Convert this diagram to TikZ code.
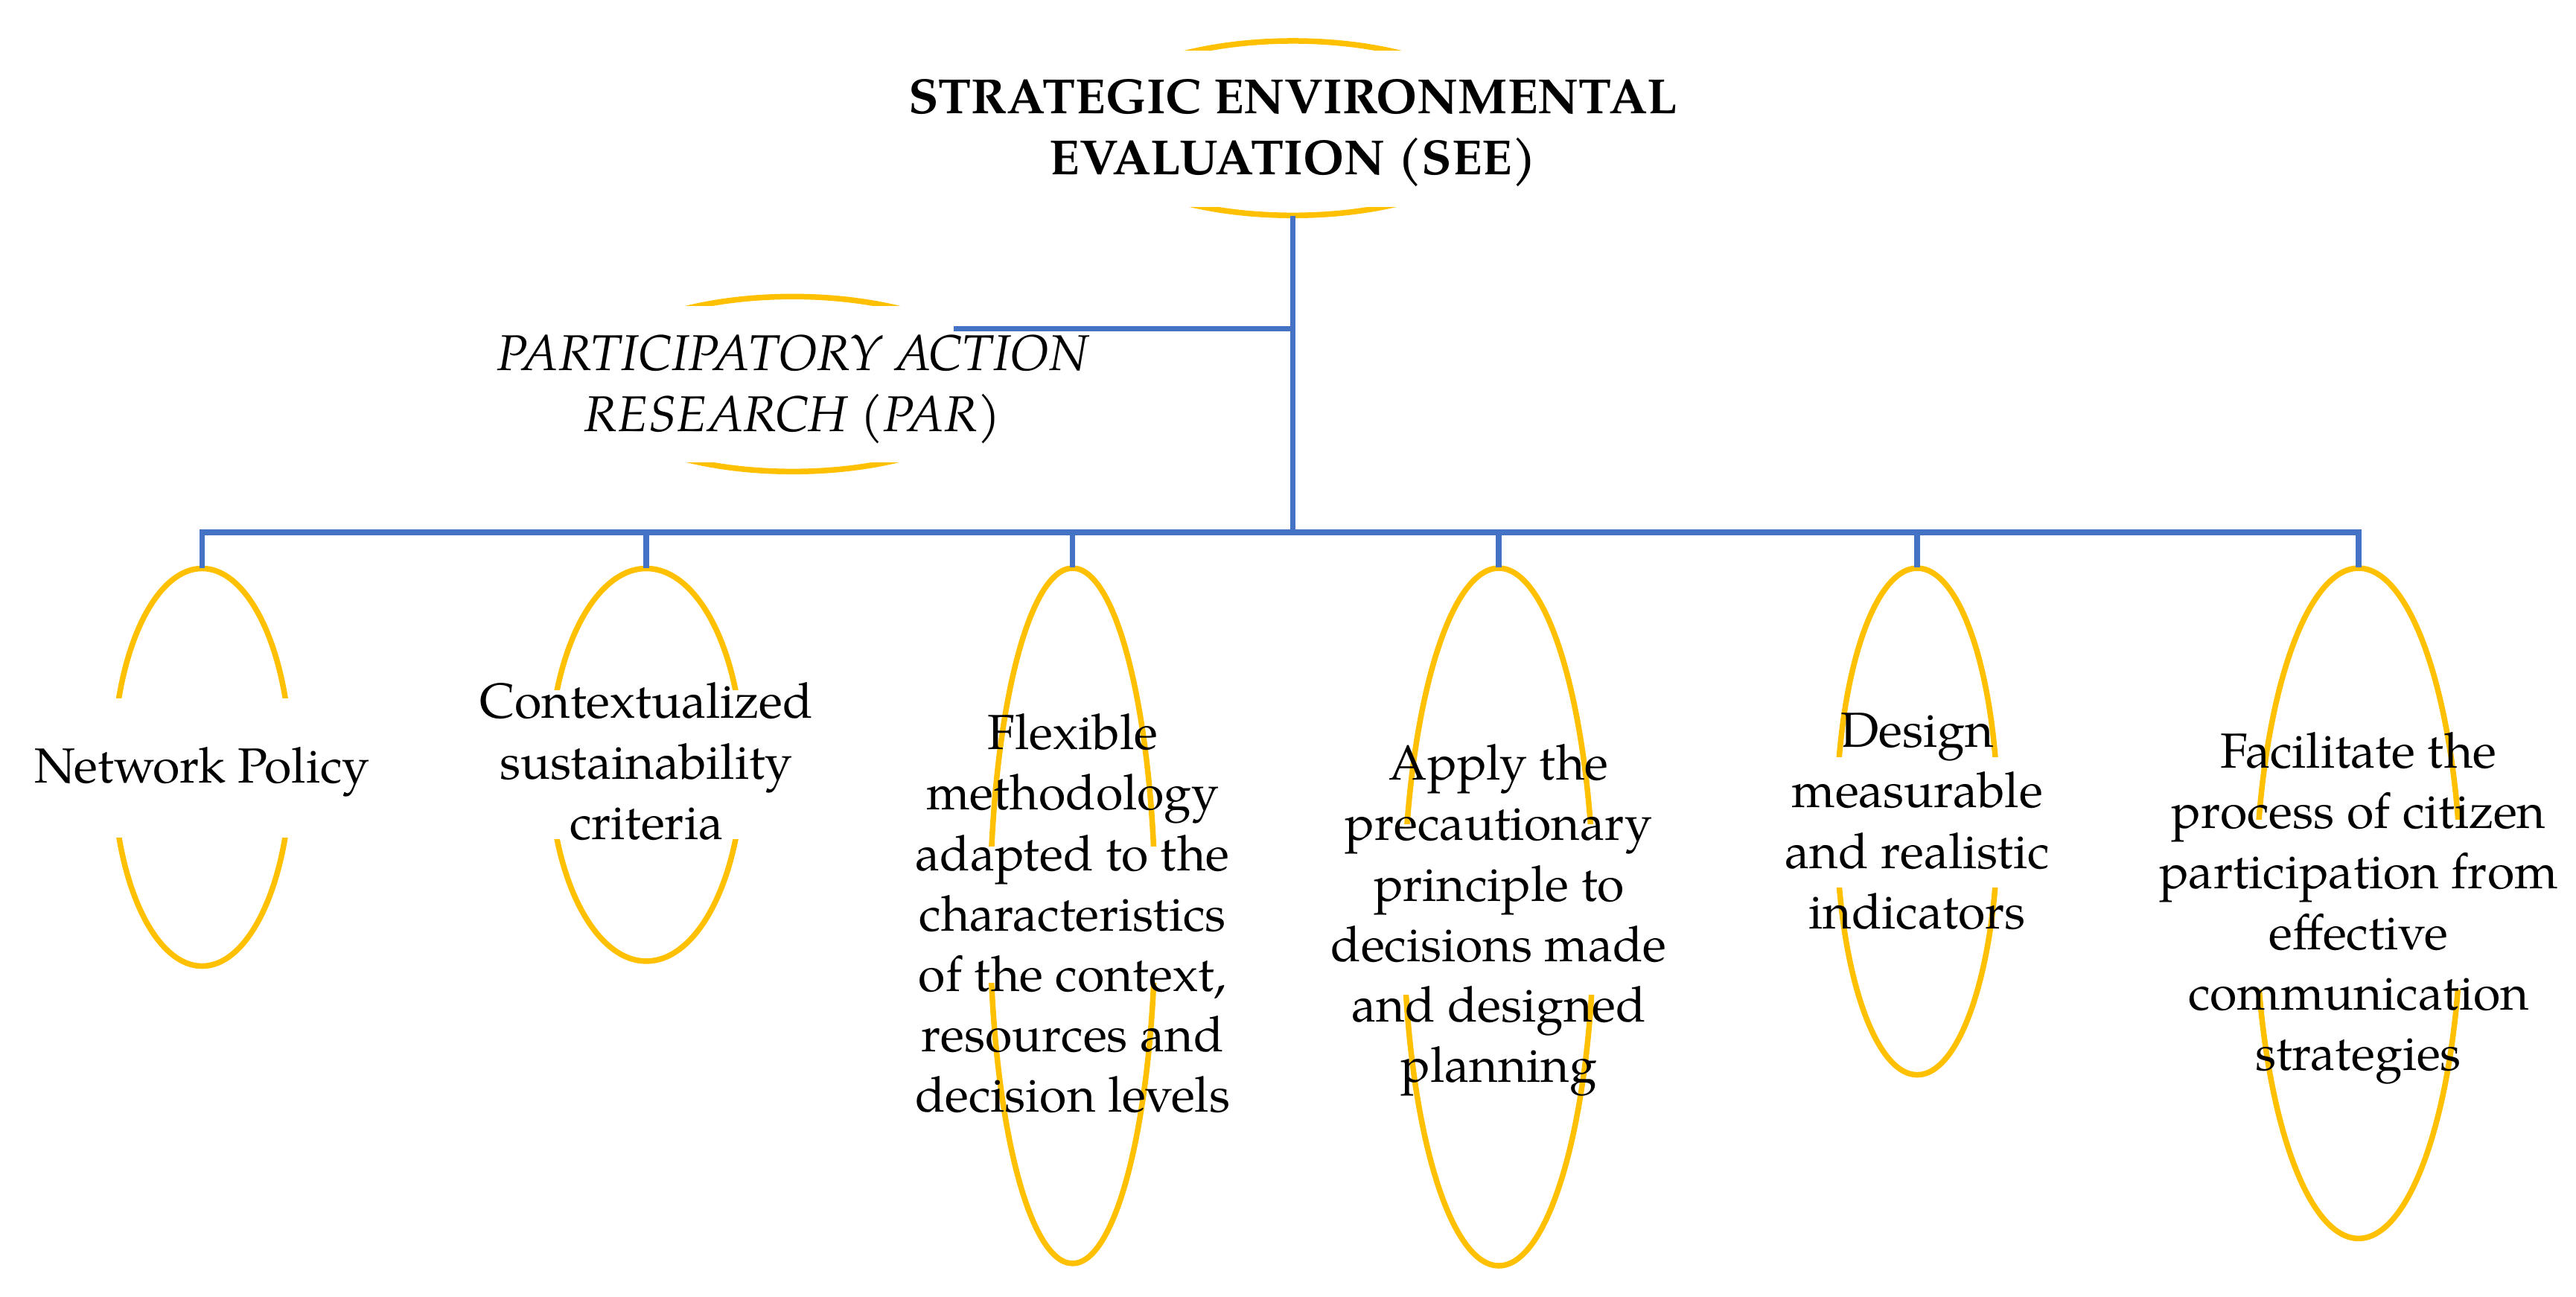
\documentclass[tikz,border=0pt]{standalone}
\usepackage{fontspec}
\setmainfont{texgyrepagella}[Extension=.otf,UprightFont=*-regular,BoldFont=*-bold,ItalicFont=*-italic,BoldItalicFont=*-bolditalic]
\usetikzlibrary{shapes.geometric}
\definecolor{ylw}{HTML}{FFC000}
\definecolor{blu}{HTML}{4472C4}
\tikzset{
  ring/.style={draw=ylw, line width=1.7pt},
  conn/.style={draw=blu, line width=1.7pt},
  oval/.style={ellipse, draw=none, inner sep=0pt},
  lbl/.style={align=center, inner sep=0pt, font=\fontsize{15}{18.4}\selectfont},
}
% #1 cx, #2 cy, #3 a, #4 b (all in picture units), #5 top of hidden band, #6 bottom of hidden band
\newcommand{\gapell}[6]{%
  \begin{scope}
    \clip (#1-#3-20,#2-#4-20) rectangle (#1+#3+20,#5);
    \draw[ring] (#1,#2) ellipse [x radius={#3*0.5pt}, y radius={#4*0.5pt}];
  \end{scope}
  \begin{scope}
    \clip (#1-#3-20,#6) rectangle (#1+#3+20,#2+#4+20);
    \draw[ring] (#1,#2) ellipse [x radius={#3*0.5pt}, y radius={#4*0.5pt}];
  \end{scope}}
\begin{document}
\begin{tikzpicture}[x=0.5pt, y=-0.5pt]
\useasboundingbox (0,0) rectangle (1568,789);

% shape nodes (outline drawn below with gaps)
\node[oval, minimum width=128pt, minimum height=53.1pt] (see) at (787,78) {};
\node[oval, minimum width=128pt, minimum height=53.25pt] (par) at (482.5,233.75) {};
\node[oval, minimum width=54pt, minimum height=121pt] (e1) at (123,467) {};
\node[oval, minimum width=58.7pt, minimum height=119.5pt] (e2) at (393.4,465.5) {};
\node[oval, minimum width=50.3pt, minimum height=211.6pt] (e3) at (652.9,557.4) {};
\node[oval, minimum width=57.9pt, minimum height=212.3pt] (e4) at (912.3,558.1) {};
\node[oval, minimum width=49.1pt, minimum height=154.2pt] (e5) at (1167,500) {};
\node[oval, minimum width=62.6pt, minimum height=204pt] (e6) at (1435.6,549.8) {};

% gapped yellow outlines
\gapell{787}{78}{128}{53.1}{30.5}{126}
\gapell{482.5}{233.75}{128}{53.25}{186}{281.7}
\gapell{123}{467}{54}{121}{425}{510}
\gapell{393.4}{465.5}{58.7}{119.5}{420}{511}
\gapell{652.9}{557.4}{50.3}{211.6}{515.1}{598.2}
\gapell{912.3}{558.1}{57.9}{212.3}{501.5}{605.8}
\gapell{1167}{500}{49.1}{154.2}{460.7}{540.2}
\gapell{1435.6}{549.8}{62.6}{204}{498.5}{602.7}

% texts
\node[lbl, font=\fontsize{15}{18.4}\selectfont\bfseries, yshift=-1.5pt] (tsee) at (see.center) {STRATEGIC ENVIRONMENTAL\\EVALUATION (SEE)};
\node[lbl, font=\fontsize{15.3}{18.4}\selectfont\itshape, yshift=-1.6pt] (tpar) at (par.center) {PARTICIPATORY ACTION\\RESEARCH (PAR)};
\node[lbl, yshift=-1.5pt] (t1) at (e1.center) {Network Policy};
\node[lbl, yshift=1pt] (t2) at (e2.center) {Contextualized\\sustainability\\criteria};
\node[lbl, yshift=0.7pt] (t3) at (e3.center) {Flexible\\methodology\\adapted to the\\characteristics\\of the context,\\resources and\\decision levels};
\node[lbl, yshift=-1pt] (t4) at (e4.center) {Apply the\\precautionary\\principle to\\decisions made\\and designed\\planning};
\node[lbl] (t5) at (e5.center) {Design\\measurable\\and realistic\\indicators};
\node[lbl, yshift=-1.5pt] (t6) at (e6.center) {Facilitate the\\process of citizen\\participation from\\effective\\communication\\strategies};

% connectors
\coordinate (bus) at (787,324);
\coordinate (parj) at (787,200);
\coordinate (parend) at (580.5,200);
\draw[conn] (see.south) -- (bus);
\draw[conn] (parj) -- (parend);
\foreach \n in {e1,e2,e3,e4,e5,e6}{\draw[conn] (bus) -| (\n.north);}
\end{tikzpicture}
\end{document}
